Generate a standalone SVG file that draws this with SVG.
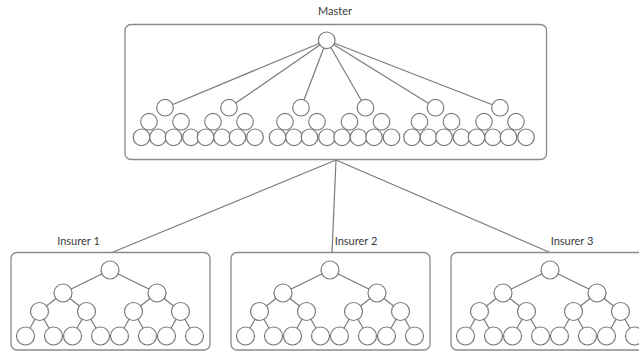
<svg xmlns="http://www.w3.org/2000/svg" xmlns:xlink="http://www.w3.org/1999/xlink" width="639" height="352" viewBox="0 0 639 352">
<style>
  .box { fill: #ffffff; stroke: #8a8a8a; stroke-width: 1.3; }
  .nd { fill: #ffffff; stroke: #7a7a7a; stroke-width: 1.2; }
  .ed { stroke: #7a7a7a; stroke-width: 1.2; fill: none; }
  .lbl { font-family: Lato, "Liberation Sans", sans-serif; font-size: 11px; fill: #3a3a3a; text-anchor: middle; }
</style>
<defs>
  <g id="mtree">
    <circle class="nd" cx="0" cy="107.7" r="8.3"/>
    <circle class="nd" cx="-16" cy="121.7" r="8.3"/>
    <circle class="nd" cx="16" cy="121.7" r="8.3"/>
    <circle class="nd" cx="-23.5" cy="137.3" r="8.3"/>
    <circle class="nd" cx="-7" cy="137.3" r="8.3"/>
    <circle class="nd" cx="8.5" cy="137.3" r="8.3"/>
    <circle class="nd" cx="26" cy="137.3" r="8.3"/>
  </g>
  <g id="itree">
    <g class="ed">
      <line x1="110" y1="270" x2="63" y2="293"/>
      <line x1="110" y1="270" x2="157" y2="293"/>
      <line x1="63" y1="293" x2="39.5" y2="311.5"/>
      <line x1="63" y1="293" x2="86.5" y2="311.5"/>
      <line x1="157" y1="293" x2="133.5" y2="311.5"/>
      <line x1="157" y1="293" x2="180.5" y2="311.5"/>
      <line x1="39.5" y1="311.5" x2="25.5" y2="336"/>
      <line x1="39.5" y1="311.5" x2="53.5" y2="336"/>
      <line x1="86.5" y1="311.5" x2="72.5" y2="336"/>
      <line x1="86.5" y1="311.5" x2="100.5" y2="336"/>
      <line x1="133.5" y1="311.5" x2="119.5" y2="336"/>
      <line x1="133.5" y1="311.5" x2="147.5" y2="336"/>
      <line x1="180.5" y1="311.5" x2="166.5" y2="336"/>
      <line x1="180.5" y1="311.5" x2="194.5" y2="336"/>
    </g>
    <circle class="nd" cx="110" cy="270" r="9"/>
    <circle class="nd" cx="63" cy="293" r="9"/>
    <circle class="nd" cx="157" cy="293" r="9"/>
    <circle class="nd" cx="39.5" cy="311.5" r="9"/>
    <circle class="nd" cx="86.5" cy="311.5" r="9"/>
    <circle class="nd" cx="133.5" cy="311.5" r="9"/>
    <circle class="nd" cx="180.5" cy="311.5" r="9"/>
    <circle class="nd" cx="25.5" cy="336" r="9"/>
    <circle class="nd" cx="53.5" cy="336" r="9"/>
    <circle class="nd" cx="72.5" cy="336" r="9"/>
    <circle class="nd" cx="100.5" cy="336" r="9"/>
    <circle class="nd" cx="119.5" cy="336" r="9"/>
    <circle class="nd" cx="147.5" cy="336" r="9"/>
    <circle class="nd" cx="166.5" cy="336" r="9"/>
    <circle class="nd" cx="194.5" cy="336" r="9"/>
  </g>
</defs>

<g id="connectors" class="ed">
  <line x1="336" y1="160" x2="112" y2="252.5"/>
  <line x1="336" y1="160" x2="332" y2="252.5"/>
  <line x1="336" y1="160" x2="550" y2="252.5"/>
</g>

<g id="master">
  <text class="lbl" x="335" y="15">Master</text>
  <rect class="box" x="125" y="24.5" width="421.5" height="135" rx="6"/>
  <g class="ed">
    <line x1="326.7" y1="40.3" x2="165" y2="107.7"/>
    <line x1="326.7" y1="40.3" x2="229" y2="107.7"/>
    <line x1="326.7" y1="40.3" x2="301" y2="107.7"/>
    <line x1="326.7" y1="40.3" x2="365.5" y2="107.7"/>
    <line x1="326.7" y1="40.3" x2="435.5" y2="107.7"/>
    <line x1="326.7" y1="40.3" x2="500" y2="107.7"/>
  </g>
  <circle class="nd" cx="326.7" cy="40.3" r="8.3"/>
  <use xlink:href="#mtree" transform="translate(165,0)"/>
  <use xlink:href="#mtree" transform="translate(229,0)"/>
  <use xlink:href="#mtree" transform="translate(301,0)"/>
  <use xlink:href="#mtree" transform="translate(365.5,0)"/>
  <use xlink:href="#mtree" transform="translate(435.5,0)"/>
  <use xlink:href="#mtree" transform="translate(500,0)"/>
</g>

<g id="insurer1">
  <text class="lbl" x="78.5" y="245">Insurer 1</text>
  <rect class="box" x="11" y="252.5" width="199" height="97.5" rx="6"/>
  <use xlink:href="#itree"/>
</g>

<g id="insurer2">
  <text class="lbl" x="356" y="245">Insurer 2</text>
  <rect class="box" x="231" y="252.5" width="199" height="97.5" rx="6"/>
  <use xlink:href="#itree" transform="translate(220,0)"/>
</g>

<g id="insurer3">
  <text class="lbl" x="572" y="245">Insurer 3</text>
  <rect class="box" x="451" y="252.5" width="199" height="97.5" rx="6"/>
  <use xlink:href="#itree" transform="translate(440,0)"/>
</g>
</svg>
